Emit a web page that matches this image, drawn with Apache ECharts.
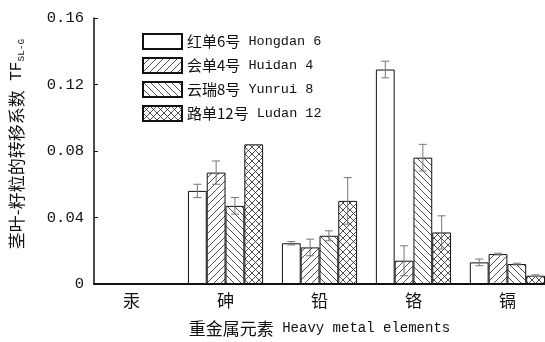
<!DOCTYPE html>
<html>

<head>
    <meta charset="utf-8">
    <title>TF SL-G</title>
    <script type="text/javascript" src="https://cdn.jsdelivr.net/npm/echarts@6/dist/echarts.min.js"></script>
</head>
<style type="text/css">
    html,
    body {
        margin: 0;
        padding: 0;
        background: #fff;
    }

    #main {
        width: 545px;
        height: 342px;
    }
</style>

<body>
    <div id="main"></div>

    <script type="text/javascript">
        // categories (heavy metals)
        var cats = ['汞', '砷', '铅', '铬', '镉'];
        // varieties
        var namesZh = ['红单6号', '会单4号', '云瑞8号', '路单12号'];
        var namesEn = ['Hongdan 6', 'Huidan 4', 'Yunrui 8', 'Ludan 12'];
        // transfer coefficients, one array per variety (order of cats)
        var hongdan = [0, 0.056, 0.0245, 0.129, 0.013];
        var huidan = [0, 0.067, 0.022, 0.014, 0.018];
        var yunrui = [0, 0.047, 0.029, 0.076, 0.012];
        var ludan = [0, 0.084, 0.050, 0.031, 0.005];
        // error (SD)
        var hongdanErr = [0, 0.004, 0.001, 0.005, 0.002];
        var huidanErr = [0, 0.007, 0.005, 0.009, 0.0005];
        var yunruiErr = [0, 0.005, 0.003, 0.008, 0.0005];
        var ludanErr = [0, 0, 0.014, 0.010, 0.0005];
        var yTicks = [0, 0.04, 0.08, 0.12, 0.16];

        var values = [hongdan, huidan, yunrui, ludan];
        var errs = [hongdanErr, huidanErr, yunruiErr, ludanErr];
        var legendNames = namesZh.map(function(z, i) {
            return z + ' ' + namesEn[i];
        });

        // hatch tiles
        function hatch(kind) {
            var s = 7;
            var c = document.createElement('canvas');
            c.width = s;
            c.height = s;
            var ctx = c.getContext('2d');
            ctx.fillStyle = '#fff';
            ctx.fillRect(0, 0, s, s);
            ctx.strokeStyle = '#222';
            ctx.lineWidth = 0.8;
            function up() {
                ctx.beginPath();
                ctx.moveTo(-1, s + 1);
                ctx.lineTo(s + 1, -1);
                ctx.moveTo(-1, 1);
                ctx.lineTo(1, -1);
                ctx.moveTo(s - 1, s + 1);
                ctx.lineTo(s + 1, s - 1);
                ctx.stroke();
            }
            function down() {
                ctx.beginPath();
                ctx.moveTo(-1, -1);
                ctx.lineTo(s + 1, s + 1);
                ctx.moveTo(s - 1, -1);
                ctx.lineTo(s + 1, 1);
                ctx.moveTo(-1, s - 1);
                ctx.lineTo(1, s + 1);
                ctx.stroke();
            }
            if (kind === 'up' || kind === 'cross') up();
            if (kind === 'down' || kind === 'cross') down();
            return { image: c, repeat: 'repeat' };
        }
        var fills = ['#fff', hatch('up'), hatch('down'), hatch('cross')];

        var chart = echarts.init(document.getElementById('main'));

        var series = [];
        values.forEach(function(vals, k) {
            series.push({
                name: legendNames[k],
                type: 'bar',
                barGap: '0%',
                barCategoryGap: '20%',
                itemStyle: {
                    color: fills[k],
                    borderColor: '#111',
                    borderWidth: 1
                },
                data: vals.map(function(v, i) {
                    return [i, v];
                })
            });
        });
        values.forEach(function(vals, k) {
            series.push({
                type: 'custom',
                z: 5,
                silent: true,
                renderItem: function(params, api) {
                    var i = api.value(0);
                    var v = api.value(1);
                    var e = api.value(2);
                    if (!e) return;
                    var bw = api.size([1, 0])[0] * 0.2;
                    var c = api.coord([i, v]);
                    var x = c[0] + (k - 1.5) * bw;
                    var y1 = api.coord([i, v + e])[1];
                    var y2 = api.coord([i, v - e])[1];
                    var st = { stroke: '#777', lineWidth: 1 };
                    return {
                        type: 'group',
                        children: [
                            { type: 'line', shape: { x1: x, y1: y1, x2: x, y2: y2 }, style: st },
                            { type: 'line', shape: { x1: x - 4, y1: y1, x2: x + 4, y2: y1 }, style: st },
                            { type: 'line', shape: { x1: x - 4, y1: y2, x2: x + 4, y2: y2 }, style: st }
                        ]
                    };
                },
                data: vals.map(function(v, i) {
                    return [i, v, errs[k][i]];
                })
            });
        });

        var option = {
            animation: false,
            backgroundColor: '#fff',
            grid: {
                left: 92,
                right: 0,
                top: 18,
                bottom: 58
            },
            legend: {
                data: legendNames,
                orient: 'vertical',
                left: 137,
                top: 28,
                itemWidth: 39,
                itemHeight: 15,
                itemGap: 7,
                icon: 'rect',
                formatter: function(name) {
                    var k = legendNames.indexOf(name);
                    return '{zh|' + namesZh[k] + '}{en| ' + namesEn[k] + '}';
                },
                textStyle: {
                    color: '#111',
                    rich: {
                        zh: { fontFamily: 'Noto Sans CJK SC', fontSize: 15, color: '#111' },
                        en: { fontFamily: 'Liberation Mono', fontSize: 13.5, color: '#111' }
                    }
                }
            },
            xAxis: {
                type: 'value',
                min: -0.4,
                max: 4.4,
                name: '{zh|重金属元素}{en| Heavy metal elements}',
                nameLocation: 'middle',
                nameGap: 36,
                nameTextStyle: {
                    rich: {
                        zh: { fontFamily: 'Noto Sans CJK SC', fontSize: 17, color: '#111' },
                        en: { fontFamily: 'Liberation Mono', fontSize: 14, color: '#111' }
                    }
                },
                splitLine: { show: false },
                axisTick: { show: false },
                axisLine: { lineStyle: { color: '#111', width: 2 } },
                axisLabel: {
                    customValues: [0, 1, 2, 3, 4],
                    formatter: function(v) {
                        return cats[Math.round(v)];
                    },
                    margin: 8,
                    fontFamily: 'Noto Sans CJK SC',
                    fontSize: 17,
                    color: '#111'
                }
            },
            yAxis: {
                type: 'value',
                min: 0,
                max: 0.16,
                interval: 0.04,
                name: '{zh|茎叶-籽粒的转移系数}{en| TF}{sub|SL-G}',
                nameLocation: 'middle',
                nameRotate: 90,
                nameGap: 68,
                nameTextStyle: {
                    padding: [0, 0, 0, 14],
                    rich: {
                        zh: { fontFamily: 'Noto Sans CJK SC', fontSize: 17, color: '#111' },
                        en: { fontFamily: 'Liberation Mono', fontSize: 16, color: '#111' },
                        sub: { fontFamily: 'Liberation Mono', fontSize: 9.5, color: '#111', verticalAlign: 'bottom', padding: [9, 0, 0, 0] }
                    }
                },
                splitLine: { show: false },
                axisLine: { show: true, onZero: false, lineStyle: { color: '#111', width: 1.5 } },
                axisTick: { show: true, inside: true, length: 4, lineStyle: { color: '#111' } },
                axisLabel: {
                    margin: 10,
                    fontFamily: 'Liberation Mono',
                    fontSize: 15.5,
                    color: '#111',
                    formatter: function(v) {
                        return v === 0 ? '0' : v.toFixed(2);
                    }
                }
            },
            series: series
        };
        chart.setOption(option);
    </script>
</body>

</html>
